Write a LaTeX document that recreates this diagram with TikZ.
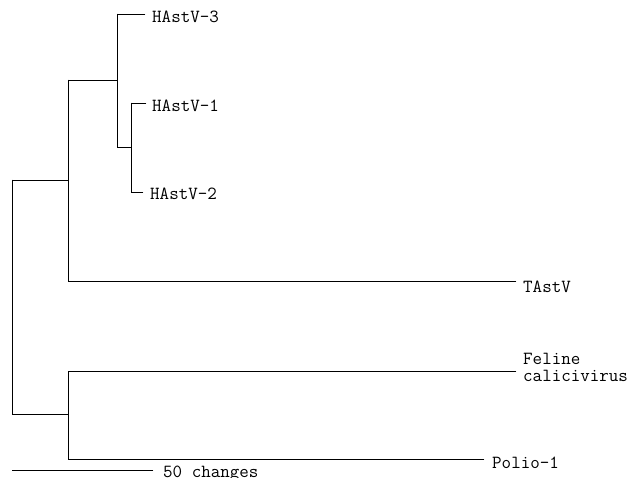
\documentclass[tikz,border=0pt]{standalone}
\usepackage{fontspec}
\begin{document}
\begin{tikzpicture}[x=1pt,y=-1pt,
  br/.style={line width=0.9pt,line cap=rect},
  lab/.style={anchor=base west,inner sep=0pt,font=\fontsize{18.5}{17}\selectfont\ttfamily}]
\useasboundingbox (0,0) rectangle (634,478);
% internal points
\coordinate (R1) at (12,180);
\coordinate (R2) at (12,414);
\coordinate (A1) at (68,80);
\coordinate (A2) at (68,281);
\coordinate (Aj) at (68,180);
\coordinate (B1) at (117,14);
\coordinate (B2) at (117,147);
\coordinate (Bj) at (117,80);
\coordinate (C1) at (131,103);
\coordinate (C2) at (131,192);
\coordinate (Cj) at (131,147);
\coordinate (D1) at (68,371);
\coordinate (D2) at (68,459);
\coordinate (Dj) at (68,414);
% leaf tips
\coordinate (t3) at (145,14);
\coordinate (t1) at (146,103);
\coordinate (t2) at (143,192);
\coordinate (tT) at (516,281);
\coordinate (tF) at (516,371);
\coordinate (tP) at (484,459);
\coordinate (s1) at (12,470);
\coordinate (s2) at (153,470);
% labels
\node[lab] (h3) at (152,23) {HAstV-3};
\node[lab] (h1) at (152,112) {HAstV-1};
\node[lab] (h2) at (150,200) {HAstV-2};
\node[lab] (ta) at (523,292) {TAstV};
\node[lab,align=left] (fe) at (523,381) {Feline\\calicivirus};
\node[lab] (po) at (492,468) {Polio-1};
\node[lab] (sc) at (163,477.5) {50 changes};
% branches
\draw[br] (R1) -- (R2);
\draw[br] (R1) -- (Aj);
\draw[br] (R2) -- (Dj);
\draw[br] (A1) -- (A2);
\draw[br] (A1) -- (Bj);
\draw[br] (A2) -- (tT);
\draw[br] (B1) -- (B2);
\draw[br] (B1) -- (t3);
\draw[br] (B2) -- (Cj);
\draw[br] (C1) -- (C2);
\draw[br] (C1) -- (t1);
\draw[br] (C2) -- (t2);
\draw[br] (D1) -- (D2);
\draw[br] (D1) -- (tF);
\draw[br] (D2) -- (tP);
\draw[br] (s1) -- (s2);
\end{tikzpicture}
\end{document}
